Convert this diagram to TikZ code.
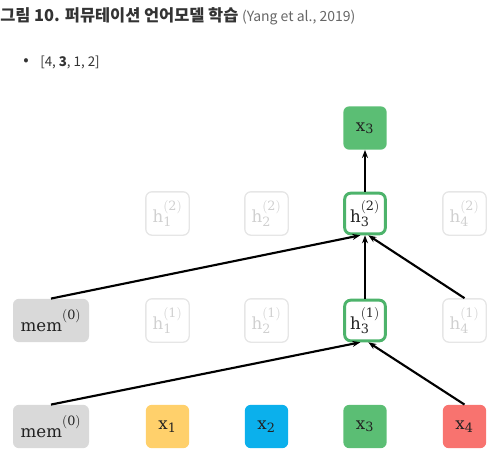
\documentclass[tikz,border=0pt]{standalone}
\usepackage{fontspec}
\newfontfamily\kor{Noto Sans CJK KR}
\setmathrm{DejaVu Serif}
\DeclareMathSizes{12.5}{12.5}{9.6}{7.5}
\usetikzlibrary{arrows.meta}
\definecolor{memgray}{HTML}{D9D9D9}
\definecolor{cxone}{HTML}{FFD06B}
\definecolor{cxtwo}{HTML}{0BB0EC}
\definecolor{cxthree}{HTML}{5BBE74}
\definecolor{cxfour}{HTML}{F8736F}
\definecolor{hgreen}{HTML}{4DB36B}
\definecolor{fadeline}{HTML}{E6E6E6}
\definecolor{fadetext}{HTML}{D0D0D0}
\definecolor{titlegray}{HTML}{333333}
\definecolor{subgray}{HTML}{666666}
\definecolor{labeltext}{HTML}{222222}
\begin{document}
\begin{tikzpicture}[x=0.75pt,y=-0.75pt,
  box/.style={rounded corners=4.5pt,minimum width=32.5pt,minimum height=32.5pt,inner sep=0pt,text=labeltext,font=\fontsize{12.5}{15}\selectfont},
  membox/.style={box,fill=memgray,minimum width=57pt},
  fill1/.style={box,fill=cxone},
  fill2/.style={box,fill=cxtwo},
  fill3/.style={box,fill=cxthree},
  fill4/.style={box,fill=cxfour},
  faded/.style={box,draw=fadeline,line width=1pt,text=fadetext},
  active/.style={box,draw=hgreen,line width=2.2pt,minimum width=30.5pt,minimum height=30.5pt},
  conn/.style={line width=1.6pt,-{Stealth[length=6pt,width=4.5pt]}}
]
\useasboundingbox (0,0) rectangle (500,455);
% title
\node[anchor=west,inner sep=0pt,text=titlegray,font=\kor\fontsize{12.3}{14}\selectfont\bfseries] (title) at (0,16) {그림 10. 퍼뮤테이션 언어모델 학습 {\mdseries\color{subgray}\fontsize{10.5}{12}\selectfont (Yang et al., 2019)}};
\node[anchor=west,inner sep=0pt,text=titlegray,font=\kor\fontsize{12}{12}\selectfont] (bullet) at (23,62) {•};
\node[anchor=west,inner sep=0pt,text=titlegray,font=\kor\fontsize{10}{12}\selectfont] (perm) at (40,62) {[4, \textbf{3}, 1, 2]};
% bottom row
\node[membox] (m0) at (51,426.5) {$\mathrm{mem}^{\mathrm{(0)}}$};
\node[fill1] (x1) at (167.5,426.5) {$\mathrm{x}_{\mathrm{1}}$};
\node[fill2] (x2) at (266.5,426.5) {$\mathrm{x}_{\mathrm{2}}$};
\node[fill3] (x3) at (365,426.5) {$\mathrm{x}_{\mathrm{3}}$};
\node[fill4] (x4) at (464.5,426.5) {$\mathrm{x}_{\mathrm{4}}$};
% middle row
\node[membox] (m1) at (51,320.5) {$\mathrm{mem}^{\mathrm{(0)}}$};
\node[faded] (h11) at (167.5,320.5) {$\mathrm{h}_{\mathrm{1}}^{\mathrm{(1)}}$};
\node[faded] (h21) at (266.5,320.5) {$\mathrm{h}_{\mathrm{2}}^{\mathrm{(1)}}$};
\node[active] (h31) at (365,320.5) {$\mathrm{h}_{\mathrm{3}}^{\mathrm{(1)}}$};
\node[faded] (h41) at (464.5,320.5) {$\mathrm{h}_{\mathrm{4}}^{\mathrm{(1)}}$};
% top row
\node[faded] (h12) at (167.5,213.5) {$\mathrm{h}_{\mathrm{1}}^{\mathrm{(2)}}$};
\node[faded] (h22) at (266.5,213.5) {$\mathrm{h}_{\mathrm{2}}^{\mathrm{(2)}}$};
\node[active] (h32) at (365,213.5) {$\mathrm{h}_{\mathrm{3}}^{\mathrm{(2)}}$};
\node[faded] (h42) at (464.5,213.5) {$\mathrm{h}_{\mathrm{4}}^{\mathrm{(2)}}$};
% output
\node[fill3] (out) at (365,128) {$\mathrm{x}_{\mathrm{3}}$};
% connectors
\draw[conn] (m0.north) -- ([xshift=-3.5pt]h31.south);
\draw[conn] (x4.north) -- ([xshift=2.5pt]h31.south);
\draw[conn] (h31.north) -- (h32.south);
\draw[conn] (m1.north) -- ([xshift=-3.5pt]h32.south);
\draw[conn] (h41.north) -- ([xshift=2.5pt]h32.south);
\draw[conn] (h32.north) -- (out.south);
\end{tikzpicture}
\end{document}
